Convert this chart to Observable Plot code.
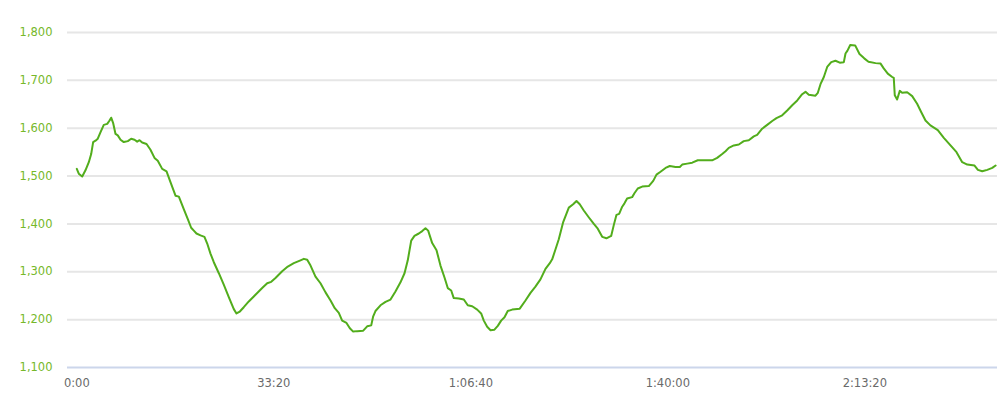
<!DOCTYPE html>
<html>
<head>
<meta charset="utf-8">
<script src="https://cdn.jsdelivr.net/npm/d3@7"></script>
<script src="https://cdn.jsdelivr.net/npm/@observablehq/plot@0.6"></script>
<style>
  html, body { margin: 0; padding: 0; background: #fff; }
  #chart svg { display: block; }
</style>
</head>
<body>
<div id="chart"></div>
<script>
// elapsed time in seconds
const times = [
  0, 20, 55, 88, 122, 146, 166, 190, 213, 241, 274, 309, 329, 349, 370, 393, 416, 444, 477, 518,
  552, 586, 613, 637, 664, 708, 748, 789, 822, 867, 911, 952, 1002, 1036, 1086, 1127, 1161, 1188, 1215, 1256,
  1296, 1324, 1357, 1391, 1442, 1492, 1543, 1594, 1621, 1655, 1695, 1746, 1814, 1882, 1933, 1974, 2017, 2085, 2142, 2203,
  2271, 2305, 2339, 2373, 2423, 2474, 2525, 2576, 2619, 2660, 2694, 2738, 2772, 2806, 2847, 2908, 2948, 2989, 3009, 3032,
  3083, 3134, 3185, 3235, 3286, 3327, 3360, 3395, 3428, 3472, 3507, 3540, 3567, 3608, 3652, 3692, 3733, 3766, 3801, 3827,
  3878, 3929, 3969, 4014, 4065, 4105, 4132, 4166, 4200, 4240, 4274, 4308, 4342, 4375, 4420, 4497, 4555, 4606, 4656, 4707,
  4758, 4802, 4826, 4860, 4893, 4938, 4995, 5039, 5073, 5106, 5147, 5197, 5249, 5289, 5334, 5377, 5425, 5452, 5479, 5506,
  5537, 5560, 5587, 5638, 5661, 5695, 5740, 5807, 5852, 5885, 5926, 5977, 6020, 6078, 6122, 6146, 6197, 6248, 6304, 6365,
  6450, 6501, 6552, 6586, 6619, 6670, 6721, 6771, 6822, 6873, 6907, 6958, 7009, 7060, 7103, 7161, 7212, 7263, 7314, 7364,
  7398, 7431, 7499, 7523, 7550, 7584, 7618, 7659, 7702, 7746, 7787, 7804, 7824, 7852, 7902, 7946, 7994, 8037, 8109, 8160,
  8192, 8233, 8278, 8294, 8304, 8328, 8355, 8379, 8430, 8481, 8531, 8572, 8616, 8666, 8741, 8802, 8870, 8931, 8989, 9040,
  9114, 9148, 9192, 9243, 9294, 9328
];
// elevation in metres
const elevations = [
  1515, 1505, 1499, 1512, 1529, 1546, 1571, 1574, 1578, 1592, 1607, 1609, 1615, 1622, 1610, 1588, 1585, 1576, 1571, 1573,
  1578, 1576, 1572, 1575, 1570, 1567, 1555, 1538, 1532, 1515, 1510, 1487, 1459, 1457, 1431, 1410, 1392, 1386, 1380, 1376,
  1373, 1359, 1338, 1320, 1297, 1273, 1247, 1222, 1213, 1217, 1226, 1238, 1252, 1266, 1276, 1279, 1287, 1301, 1311, 1318,
  1324, 1327, 1325, 1313, 1290, 1276, 1257, 1240, 1224, 1214, 1198, 1193, 1182, 1175, 1176, 1177, 1186, 1188, 1207, 1218,
  1230, 1237, 1242, 1259, 1278, 1297, 1324, 1365, 1375, 1380, 1385, 1391, 1386, 1360, 1345, 1313, 1288, 1266, 1261, 1245,
  1244, 1242, 1230, 1228, 1221, 1213, 1198, 1185, 1178, 1179, 1187, 1198, 1205, 1218, 1221, 1223, 1240, 1256, 1269, 1284,
  1306, 1318, 1326, 1347, 1368, 1404, 1434, 1441, 1448, 1441, 1428, 1414, 1400, 1390, 1373, 1370, 1375, 1398, 1419, 1421,
  1436, 1443, 1453, 1456, 1464, 1474, 1478, 1479, 1490, 1503, 1509, 1517, 1521, 1519, 1519, 1524, 1526, 1528, 1533, 1533,
  1533, 1538, 1546, 1552, 1559, 1564, 1566, 1573, 1575, 1583, 1586, 1599, 1607, 1615, 1621, 1627, 1637, 1648, 1658, 1671,
  1676, 1670, 1668, 1674, 1692, 1707, 1728, 1738, 1741, 1737, 1738, 1756, 1762, 1774, 1773, 1755, 1746, 1739, 1736, 1735,
  1725, 1714, 1707, 1705, 1669, 1660, 1678, 1674, 1675, 1667, 1651, 1634, 1616, 1606, 1596, 1580, 1564, 1550, 1529, 1524,
  1522, 1513, 1510, 1513, 1517, 1522
];
const yTicks = [1100, 1200, 1300, 1400, 1500, 1600, 1700, 1800];
const xTicks = [0, 2000, 4000, 6000, 8000];

const data = times.map((t, i) => ({t, e: elevations[i]}));

const pad = n => String(n).padStart(2, "0");
const fmtTime = s => {
  const h = Math.floor(s / 3600), m = Math.floor((s % 3600) / 60), sec = s % 60;
  return h ? `${h}:${pad(m)}:${pad(sec)}` : `${m}:${pad(sec)}`;
};

const chart = Plot.plot({
  width: 997,
  height: 413,
  marginLeft: 67,
  marginRight: 0,
  marginTop: 32,
  marginBottom: 46,
  style: {fontFamily: "DejaVu Sans", fontSize: "11.5px", background: "#fff"},
  x: {domain: [0, 9347], insetLeft: 9.3},
  y: {domain: [1100, 1800]},
  marks: [
    Plot.ruleY(yTicks.filter(d => d > 1100), {stroke: "#e6e6e6", strokeWidth: 2}),
    Plot.ruleY([1100], {stroke: "#ccd6eb", strokeWidth: 2}),
    Plot.axisY(yTicks, {tickSize: 0, tickPadding: 15, tickFormat: d3.format(","), color: "#76b82a", fontSize: 11.5, label: null}),
    Plot.axisX(xTicks, {tickSize: 0, tickPadding: 11, tickFormat: fmtTime, color: "#6a6a6a", fontSize: 11.5, label: null}),
    Plot.line(data, {x: "t", y: "e", stroke: "#52ad1c", strokeWidth: 2})
  ]
});
document.getElementById("chart").appendChild(chart);
</script>
</body>
</html>
